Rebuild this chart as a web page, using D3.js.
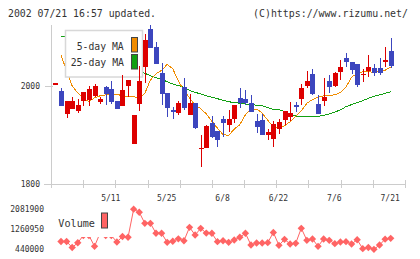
<!DOCTYPE html>
<html>
<head>
<meta charset="utf-8">
<script src="https://cdn.jsdelivr.net/npm/d3@7"></script>
<style>
  body { margin: 0; background: #fff; }
  svg { display: block; }
  text { font-family: "DejaVu Sans Mono", monospace; fill: #333; }
</style>
</head>
<body>
<svg id="chart" width="420" height="259"></svg>
<script>
// daily prices, oldest first
var opens  = [2005,1990,1942,1953,1949,1970,1971,1980,1967,1998,1994,1969,1959,2000,1881,1963,2039,2116,2080,2026,1986,
              1952,1945,1998,1941,1965,1873,1873,1925,1908,1932,1920,1933,1975,1973,1965,1929,1931,1901,1891,1912,
              1931,1937,1961,1974,2000,2025,1964,1969,2010,2001,2029,2057,2049,2044,2022,2031,2036,2037,2049,2071];
var closes = [2006,1960,1969,1969,1961,1988,1994,2000,1973,1984,1968,1953,1992,2012,1941,2010,2094,2078,2045,1984,1955,
              1946,1965,1955,1965,1914,1874,1918,1895,1890,1925,1932,1961,1966,1966,1947,1916,1900,1906,1922,1927,
              1949,1945,1960,1995,2010,1983,1943,1977,1997,2027,2039,2048,2033,2002,2025,2039,2026,2027,2054,2041];
var highs  = [2006,1996,1969,1978,1973,1988,1999,2005,1978,2000,2010,1969,2022,2012,1941,2041,2106,2125,2090,2046,1986,
              1958,1969,2016,1984,1965,1900,1920,1939,1908,1939,1951,1961,1996,1991,1982,1943,1943,1912,1929,1932,
              1949,1967,1967,2004,2031,2035,1981,2016,2022,2029,2054,2068,2049,2044,2034,2064,2044,2057,2080,2098];
var lows   = [2005,1960,1935,1953,1945,1959,1960,1977,1964,1962,1964,1953,1959,1977,1881,1949,2007,2078,2045,1961,1937,
              1933,1941,1952,1941,1912,1835,1873,1894,1876,1895,1907,1925,1956,1961,1946,1905,1900,1890,1876,1903,
              1920,1928,1946,1962,1996,1981,1943,1960,1986,1998,2013,2039,2024,1997,2008,2018,2020,2022,2038,2036];

var ma5  = [null,2063,2031,2000,1986,1974,1968,1976,1980,1982,1984,1983,1980,1978,1978,1976,1985,2012,2025,2032,2044,
            2035,2010,1991,1976,1961,1954,1943,1928,1914,1901,1899,1912,1921,1941,1953,1953,1945,1930,1916,1914,
            1919,1927,1938,1949,1965,1972,1977,1980,1981,1982,1987,1998,2018,2026,2029,2029,2028,2029,2032,2039];
var ma25 = [null,2102,2100,2097,2093,2089,2085,2080,2075,2070,2064,2058,2052,2045,2038,2031,2026,2021,2017,2013,2009,
            2004,2001,1997,1991,1987,1984,1980,1977,1974,1971,1968,1966,1965,1963,1962,1961,1960,1956,1952,1952,
            1948,1943,1939,1937,1937,1938,1938,1940,1943,1947,1951,1958,1962,1966,1970,1975,1979,1982,1985,1988];

var volumes = [null,760000,760000,514000,707000,1006000,1006000,563000,1109000,1006000,1006000,740000,965000,933000,2086000,1959000,
               1507000,1507000,1097000,1097000,727000,772000,871000,789000,1343000,1027000,1302000,1105000,1097000,752000,789000,
               727000,822000,933000,1097000,616000,699000,699000,711000,1130000,604000,850000,657000,686000,1302000,809000,
               863000,563000,863000,809000,670000,740000,752000,657000,834000,465000,514000,440000,616000,855000,891000];

var dateLabels = ["5/11", "5/25", "6/8", "6/22", "7/6", "7/21"];
var dateLabelIdx = [10, 20, 30, 40, 50, 60];
var priceTicks = [1800, 2000];
var volumeTicks = [440000, 1260950, 2081900];

var svg = d3.select("#chart");
var x = d3.scaleLinear().domain([-0.79, 62.56]).range([51, 405]);
var y = d3.scaleLinear().domain([1800, 2000]).range([184, 86]);
var yv = d3.scaleLinear().domain([440000, 2081900]).range([249.3, 209.3]);
var gridX = d3.scaleLinear().domain([0, 11]).range([51, 405]);

var red = "#dd0000", blue = "#3c46be", orange = "#f08c00", green = "#12a012", pink = "#ff6464";
var axisColor = "#cccccc";

function px(v) { return Math.round(v) + 0.5; }

/*
  header
*/
svg.append("text").attr("x", 8).attr("y", 17).attr("font-size", 10)
  .attr("textLength", 148).attr("lengthAdjust", "spacingAndGlyphs")
  .text("2002 07/21 16:57 updated.");
svg.append("text").attr("x", 253).attr("y", 17).attr("font-size", 10)
  .attr("textLength", 155).attr("lengthAdjust", "spacingAndGlyphs")
  .text("(C)https://www.rizumu.net/");

/*
  axes
*/
var axis = svg.append("g").attr("stroke", axisColor).attr("stroke-width", 1)
  .attr("shape-rendering", "crispEdges");
axis.append("line").attr("x1", px(51)).attr("x2", px(51)).attr("y1", 25).attr("y2", 188);
axis.append("line").attr("x1", 44).attr("x2", 405).attr("y1", px(y(1800))).attr("y2", px(y(1800)));
axis.selectAll(".xt").data(d3.range(12)).enter().append("line")
  .attr("x1", function(d) { return px(gridX(d)); })
  .attr("x2", function(d) { return px(gridX(d)); })
  .attr("y1", 180).attr("y2", 188);
axis.selectAll(".yt").data(priceTicks).enter().append("line")
  .attr("x1", 45).attr("x2", 53)
  .attr("y1", function(d) { return px(y(d)); })
  .attr("y2", function(d) { return px(y(d)); });

svg.selectAll(".ylab").data(priceTicks).enter().append("text")
  .attr("x", 40).attr("y", function(d) { return y(d) + 2.8; })
  .attr("text-anchor", "end").attr("font-size", 8)
  .text(function(d) { return d; });

svg.selectAll(".xlab").data(dateLabels).enter().append("text")
  .attr("x", function(d, i) { return x(dateLabelIdx[i]) - 0.5; })
  .attr("y", 200.5).attr("text-anchor", "middle").attr("font-size", 8)
  .text(function(d) { return d; });

/*
  moving averages
*/
function maLine(arr) {
  return d3.line()
    .defined(function(d) { return d != null; })
    .x(function(d, i) { return x(i); })
    .y(function(d) { return y(d); })(arr);
}
svg.append("path").attr("d", maLine(ma25)).attr("fill", "none")
  .attr("stroke", green).attr("stroke-width", 1).attr("shape-rendering", "crispEdges");
svg.append("path").attr("d", maLine(ma5)).attr("fill", "none")
  .attr("stroke", orange).attr("stroke-width", 1).attr("shape-rendering", "crispEdges");

// legend box sits over the lines
var legend = svg.append("g");
legend.append("rect").attr("x", 65.5).attr("y", 30.5).attr("width", 77).attr("height", 46.5)
  .attr("fill", "#fff").attr("stroke", "#d8d8d8").attr("stroke-width", 1.5);
legend.append("text").attr("x", 76.7).attr("y", 49.5).attr("font-size", 11)
  .attr("textLength", 47).attr("lengthAdjust", "spacingAndGlyphs").text("5-day MA");
legend.append("text").attr("x", 70.7).attr("y", 66).attr("font-size", 11)
  .attr("textLength", 53.3).attr("lengthAdjust", "spacingAndGlyphs").text("25-day MA");
legend.append("rect").attr("x", 131.5).attr("y", 37.5).attr("width", 6).attr("height", 14.5)
  .attr("fill", orange).attr("stroke", "#444");
legend.append("rect").attr("x", 131.5).attr("y", 54.5).attr("width", 6).attr("height", 14.5)
  .attr("fill", green).attr("stroke", "#444");

/*
  candles
*/
var candle = svg.append("g").attr("shape-rendering", "crispEdges")
  .selectAll("g").data(opens).enter().append("g");

candle.append("line")
  .attr("x1", function(d, i) { return px(x(i)); })
  .attr("x2", function(d, i) { return px(x(i)); })
  .attr("y1", function(d, i) { return y(highs[i]); })
  .attr("y2", function(d, i) { return y(lows[i]); })
  .attr("stroke", function(d, i) { return closes[i] >= opens[i] ? red : blue; });

candle.append("rect")
  .attr("x", function(d, i) { return Math.round(x(i)) - 2; })
  .attr("width", 5)
  .attr("y", function(d, i) { return y(Math.max(opens[i], closes[i])); })
  .attr("height", function(d, i) { return Math.max(1.5, Math.abs(y(opens[i]) - y(closes[i]))); })
  .attr("fill", function(d, i) { return closes[i] >= opens[i] ? red : blue; });

/*
  volume
*/
var volLine = d3.line()
  .defined(function(d) { return d != null; })
  .x(function(d, i) { return x(i); })
  .y(function(d) { return yv(d); });

svg.append("path").attr("d", volLine(volumes)).attr("fill", "none")
  .attr("stroke", pink).attr("stroke-width", 1);

svg.append("g").selectAll("path")
  .data(volumes.map(function(v, i) { return {v: v, i: i}; }).filter(function(d) { return d.v != null; }))
  .enter().append("path")
  .attr("d", d3.symbol(d3.symbolSquare, 27))
  .attr("transform", function(d) { return "translate(" + x(d.i) + "," + yv(d.v) + ") rotate(45)"; })
  .attr("fill", pink);

svg.append("rect").attr("x", 55).attr("y", 205).attr("width", 60).attr("height", 32).attr("fill", "#fff");
svg.append("text").attr("x", 58.3).attr("y", 226.5).attr("font-size", 11)
  .attr("textLength", 36.7).attr("lengthAdjust", "spacingAndGlyphs").text("Volume");
svg.append("rect").attr("x", 101.5).attr("y", 213).attr("width", 6).attr("height", 15)
  .attr("fill", pink).attr("stroke", "#444");

svg.selectAll(".vlab").data(volumeTicks).enter().append("text")
  .attr("x", 44).attr("y", function(d) { return yv(d) + 3; })
  .attr("text-anchor", "end").attr("font-size", 8)
  .text(function(d) { return d; });
</script>
</body>
</html>
